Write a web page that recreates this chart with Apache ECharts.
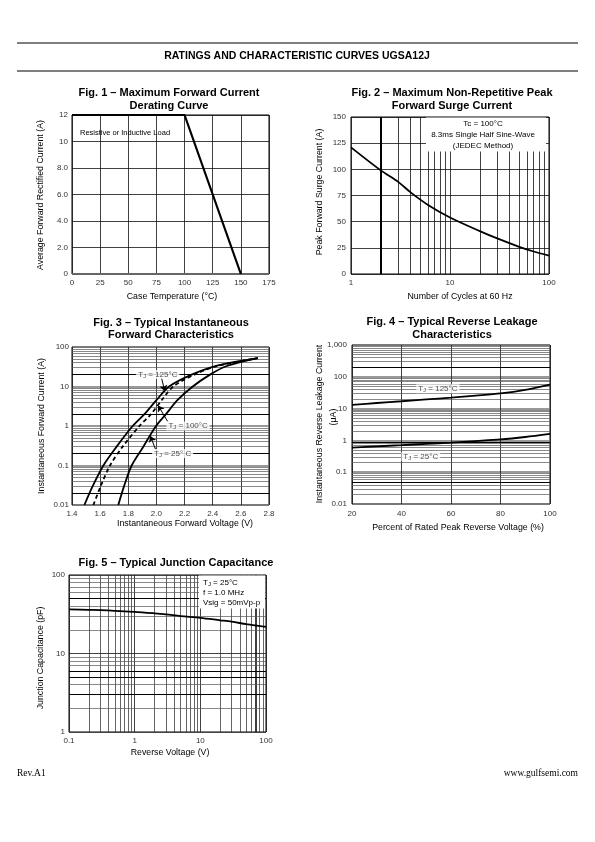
<!DOCTYPE html>
<html><head><meta charset="utf-8">
<script src="https://cdn.jsdelivr.net/npm/echarts@6/dist/echarts.min.js"></script>
<style>html,body{margin:0;padding:0;background:#fff}#c{width:595px;height:842px}</style>
</head><body><div id="c"></div>
<script>
// ---------- data ----------
const fig1Temp = [0, 100, 150];
const fig1Current = [12, 12, 0];
const fig1YLabels = ['0', '2.0', '4.0', '6.0', '8.0', '10', '12'];

const fig2Cycles = [1, 2, 3, 4, 6, 10, 20, 30, 50, 70, 100];
const fig2Current = [121, 99, 88, 78, 66, 54, 41, 34, 26, 21.5, 17.5];
const fig2XLabels = ['1', '10', '100'];

const fig3Current = [0.01, 0.03, 0.1, 0.3, 1, 2, 4.5, 10, 20, 33, 52];
const fig3V125 = [1.488, 1.547, 1.623, 1.717, 1.831, 1.915, 2.0, 2.09, 2.25, 2.42, 2.72];
const fig3V100 = [1.552, 1.604, 1.670, 1.760, 1.879, 1.962, 2.037, 2.12, 2.27, 2.43, 2.72];
const fig3V25 = [1.729, 1.770, 1.824, 1.907, 1.997, 2.068, 2.149, 2.258, 2.381, 2.50, 2.72];
const fig3YLabels = ['0.01', '0.1', '1', '10', '100'];

const fig4Percent = [20, 30, 40, 50, 60, 70, 80, 90, 100];
const fig4Leak125 = [13, 15, 17, 19.5, 22, 25.5, 30, 39, 57];
const fig4Leak25 = [0.59, 0.65, 0.71, 0.78, 0.85, 0.95, 1.07, 1.28, 1.6];
const fig4YLabels = ['0.01', '0.1', '1', '10', '100', '1,000'];

const fig5Voltage = [0.1, 0.2, 0.3, 0.5, 1, 2, 3, 5, 10, 20, 30, 50, 100];
const fig5Cap = [36.5, 36, 35.7, 35, 34, 32.5, 31.5, 30, 28.5, 26.5, 25.4, 23.7, 21.8];
const fig5XLabels = ['0.1', '1', '10', '100'];
const fig5YLabels = ['1', '10', '100'];

// ---------- helpers ----------
const FONT = '"Liberation Sans", Arial, Helvetica, sans-serif';
const pairs = (xs, ys) => xs.map((x, i) => [x, ys[i]]);
const logFmt = (labels, d0) => v => labels[Math.round(Math.log10(v)) - d0] || '';

function minorLog(d0, d1, dim, styleFn) {
  const out = [];
  for (let d = d0; d < d1; d++) {
    for (let m = 2; m <= 9; m++) {
      const v = +(m * Math.pow(10, d)).toPrecision(6);
      const it = {}; it[dim] = v; it.lineStyle = styleFn(m, v);
      out.push(it);
    }
  }
  return out;
}
function gridSeries(idx, lines) {
  return {
    type: 'line', xAxisIndex: idx, yAxisIndex: idx, data: [], z: 1, silent: true,
    markLine: { z: 1, silent: true, symbol: 'none', animation: false,
      label: { show: false }, emphasis: { disabled: true }, data: lines }
  };
}
function curve(idx, data, opts) {
  opts = opts || {};
  return {
    type: 'line', xAxisIndex: idx, yAxisIndex: idx, data: data, z: 3,
    showSymbol: false, smooth: opts.straight ? false : 0.3, silent: true,
    lineStyle: { color: '#000', width: opts.width || 1.8, type: opts.dashed ? [4, 3] : 'solid' }
  };
}
const thin = (c, w) => ({ color: c, width: w, type: 'solid' });

const axisBase = (extra) => Object.assign({
  axisLine: { show: false }, axisTick: { show: false },
  splitLine: { show: true, lineStyle: { color: '#111', width: 0.8 } }
}, extra);
const lbl = (margin, fmt) => ({ fontSize: 8, color: '#333', fontFamily: FONT, margin: margin, formatter: fmt, showMinLabel: true, showMaxLabel: true });

const sub = (t, s, rest, fs) => ({
  formatter: '{a|' + t + '}{b|' + s + '}{a|' + rest + '}',
  rich: { a: { fontSize: fs, fontFamily: FONT, color: '#222' },
          b: { fontSize: fs - 2, fontFamily: FONT, color: '#222', padding: [3, 0, 0, 0] } }
});

// ---------- options ----------
const gridBox = (l, t, w, h) => ({ left: l, top: t, width: w, height: h, show: true, borderColor: '#000', borderWidth: 1, backgroundColor: 'transparent', containLabel: false });

const xAxis = [
  axisBase({ gridIndex: 0, type: 'value', min: 0, max: 175, interval: 25, axisLabel: lbl(5) }),
  axisBase({ gridIndex: 1, type: 'log', logBase: 10, min: 1, max: 100, axisLabel: lbl(5, logFmt(fig2XLabels, 0)) }),
  axisBase({ gridIndex: 2, type: 'value', min: 1.4, max: 2.8, interval: 0.2, axisLabel: lbl(5, v => v.toFixed(1)) }),
  axisBase({ gridIndex: 3, type: 'value', min: 20, max: 100, interval: 20, axisLabel: lbl(6) }),
  axisBase({ gridIndex: 4, type: 'log', logBase: 10, min: 0.1, max: 100, axisLabel: lbl(5, logFmt(fig5XLabels, -1)) })
];
const yAxis = [
  axisBase({ gridIndex: 0, type: 'value', min: 0, max: 12, interval: 2, axisLabel: lbl(4, v => fig1YLabels[Math.round(v / 2)]) }),
  axisBase({ gridIndex: 1, type: 'value', min: 0, max: 150, interval: 25, axisLabel: lbl(5) }),
  axisBase({ gridIndex: 2, type: 'log', logBase: 10, min: 0.01, max: 100, axisLabel: lbl(3, logFmt(fig3YLabels, -2)),
    splitLine: { show: true, lineStyle: { color: '#777', width: 1.6 } } }),
  axisBase({ gridIndex: 3, type: 'log', logBase: 10, min: 0.01, max: 1000, axisLabel: lbl(5, logFmt(fig4YLabels, -2)),
    splitLine: { show: true, lineStyle: { color: '#777', width: 1.6 } } }),
  axisBase({ gridIndex: 4, type: 'log', logBase: 10, min: 1, max: 100, axisLabel: lbl(4, logFmt(fig5YLabels, 0)),
    splitLine: { show: true, lineStyle: { color: '#444', width: 1 } } })
];

const series = [
  // Fig 1 bottom axis emphasis
  gridSeries(0, [{ yAxis: 0, lineStyle: thin('#666', 2) }]),
  // Fig 2 minor vertical grid
  gridSeries(1, minorLog(0, 2, 'xAxis', (m, v) => v === 2 ? thin('#000', 2) : thin('#111', 0.8))),
  // Fig 3 minor horizontal grid
  gridSeries(2, minorLog(-2, 2, 'yAxis', (m) => m === 2 ? thin('#000', 1.1) : thin('#555', 0.7))),
  // Fig 4 minor horizontal grid
  gridSeries(3, minorLog(-2, 3, 'yAxis', (m, v) => (v === 200 || v === 0.9 || v === 0.05) ? thin('#000', 1.1) : thin('#555', 0.7))),
  // Fig 5 minor grids
  gridSeries(4, minorLog(-1, 2, 'xAxis', (m, v) => v === 70 ? thin('#000', 1.5) : thin('#222', 0.7))
    .concat(minorLog(0, 2, 'yAxis', (m, v) => (v === 50 || v === 6 || v === 5 || v === 3) ? thin('#000', 1.1) : thin('#555', 0.7)))),

  curve(0, pairs(fig1Temp, fig1Current), { straight: true, width: 2.2 }),
  curve(1, pairs(fig2Cycles, fig2Current)),
  curve(2, pairs(fig3V125, fig3Current)),
  curve(2, pairs(fig3V100, fig3Current), { dashed: true }),
  curve(2, pairs(fig3V25, fig3Current)),
  curve(3, pairs(fig4Percent, fig4Leak125)),
  curve(3, pairs(fig4Percent, fig4Leak25)),
  curve(4, pairs(fig5Voltage, fig5Cap)),

  // Fig 3 annotations
  {
    type: 'scatter', xAxisIndex: 2, yAxisIndex: 2, z: 10, silent: true, symbolSize: 1,
    itemStyle: { color: 'rgba(0,0,0,0)' },
    label: { show: true, position: 'inside', backgroundColor: '#fff', padding: [0, 2] },
    data: [
      { value: [2.01, 20], label: sub('T', 'J', ' = 125°C', 8) },
      { value: [2.225, 1.0], label: sub('T', 'J', ' = 100°C', 8) },
      { value: [2.115, 0.2], label: sub('T', 'J', ' = 25° C', 8) }
    ],
    markLine: {
      z: 9, silent: true, symbol: ['none', 'arrow'], symbolSize: 6, animation: false,
      label: { show: false }, lineStyle: { color: '#000', width: 1, type: 'solid' },
      data: [
        [{ coord: [2.035, 17] }, { coord: [2.06, 7.6] }],
        [{ coord: [2.08, 1.3] }, { coord: [2.012, 3.3] }],
        [{ coord: [1.995, 0.25] }, { coord: [1.957, 0.56] }]
      ]
    }
  },
  // Fig 4 annotations
  {
    type: 'scatter', xAxisIndex: 3, yAxisIndex: 3, z: 10, silent: true, symbolSize: 1,
    itemStyle: { color: 'rgba(0,0,0,0)' },
    label: { show: true, position: 'inside', backgroundColor: '#fff', padding: [0, 2] },
    data: [
      { value: [54.7, 42], label: sub('T', 'J', ' = 125°C', 8) },
      { value: [47.8, 0.31], label: sub('T', 'J', ' = 25°C', 8) }
    ]
  }
];

function txt(x, y, text, font, opts) {
  opts = opts || {};
  const el = { type: 'text', x: x, y: y, z: 200, silent: true,
    style: Object.assign({ text: text, font: font, fill: '#000', align: 'center', verticalAlign: 'middle',
      textAlign: 'center', textVerticalAlign: 'middle' }, opts.style || {}) };
  if (opts.rotation) el.rotation = opts.rotation;
  return el;
}
const B11 = 'bold 11px ' + FONT;
const N9 = '8.8px ' + FONT;
const N8 = '8px ' + FONT;
const R90 = Math.PI / 2;
const leftRich = (extra) => ({ style: Object.assign({ align: 'left', textAlign: 'left',
  rich: { s: { fontSize: 6, fontFamily: FONT, fill: '#000', padding: [3, 0, 0, 0] } } }, extra || {}) });

const graphic = [
  { type: 'line', z: 200, shape: { x1: 17, y1: 43, x2: 578, y2: 43 }, style: { stroke: '#000', lineWidth: 1.2 } },
  { type: 'line', z: 200, shape: { x1: 17, y1: 71, x2: 578, y2: 71 }, style: { stroke: '#000', lineWidth: 1.2 } },
  txt(297, 56, 'RATINGS AND CHARACTERISTIC CURVES UGSA12J', 'bold 10.5px ' + FONT),

  txt(169, 93, 'Fig. 1 – Maximum Forward Current', B11),
  txt(169, 106, 'Derating Curve', B11),
  txt(452, 93, 'Fig. 2 – Maximum Non-Repetitive Peak', B11),
  txt(452, 106, 'Forward Surge Current', B11),
  txt(171, 323, 'Fig. 3 – Typical Instantaneous', B11),
  txt(171, 335, 'Forward Characteristics', B11),
  txt(452, 322, 'Fig. 4 – Typical Reverse Leakage', B11),
  txt(452, 335, 'Characteristics', B11),
  txt(176, 563, 'Fig. 5 – Typical Junction Capacitance', B11),

  txt(41, 195, 'Average Forward Rectified Current (A)', N9, { rotation: R90 }),
  txt(172, 297, 'Case Temperature (°C)', N9),
  txt(320, 192, 'Peak Forward Surge Current (A)', N9, { rotation: R90 }),
  txt(460, 297, 'Number of Cycles at 60 Hz', N9),
  txt(42, 426, 'Instantaneous Forward Current (A)', N9, { rotation: R90 }),
  txt(185, 524, 'Instantaneous Forward Voltage (V)', N9),
  txt(320, 424, 'Instantaneous Reverse Leakage Current', N9, { rotation: R90 }),
  txt(334, 417, '(μA)', N9, { rotation: R90 }),
  txt(458, 528, 'Percent of Rated Peak Reverse Voltage (%)', N9),
  txt(41, 658, 'Junction Capacitance (pF)', N9, { rotation: R90 }),
  txt(170, 753, 'Reverse Voltage (V)', N9),

  txt(80, 133, 'Resistive or Inductive Load', '7.5px ' + FONT, { style: { align: 'left', textAlign: 'left' } }),

  { type: 'rect', z: 150, shape: { x: 426, y: 117.5, width: 120, height: 34 }, style: { fill: '#fff' } },
  txt(483, 124, 'Tc = 100°C', N8),
  txt(483, 135, '8.3ms Single Half Sine-Wave', N8),
  txt(483, 146, '(JEDEC Method)', N8),

  { type: 'rect', z: 150, shape: { x: 199, y: 575.5, width: 66, height: 33 }, style: { fill: '#fff' } },
  txt(203, 583, 'T{s|J} = 25°C', N8, leftRich()),
  txt(203, 593, 'f = 1.0 MHz', N8, { style: { align: 'left', textAlign: 'left' } }),
  txt(203, 603, 'Vsig = 50mVp-p', N8, { style: { align: 'left', textAlign: 'left' } }),

  txt(17, 773, 'Rev.A1', '9.5px "Liberation Serif", "Times New Roman", serif', { style: { align: 'left', textAlign: 'left' } }),
  txt(578, 773, 'www.gulfsemi.com', '9.5px "Liberation Serif", "Times New Roman", serif', { style: { align: 'right', textAlign: 'right' } })
];

const chart = echarts.init(document.getElementById('c'), null, { renderer: 'canvas' });
chart.setOption({
  animation: false,
  backgroundColor: '#fff',
  grid: [gridBox(72, 115, 197, 159), gridBox(351, 117, 198, 157), gridBox(72, 347, 197, 158), gridBox(352, 345, 198, 159), gridBox(69, 575, 197, 157)],
  xAxis: xAxis,
  yAxis: yAxis,
  series: series,
  graphic: graphic
});
</script>
</body></html>
